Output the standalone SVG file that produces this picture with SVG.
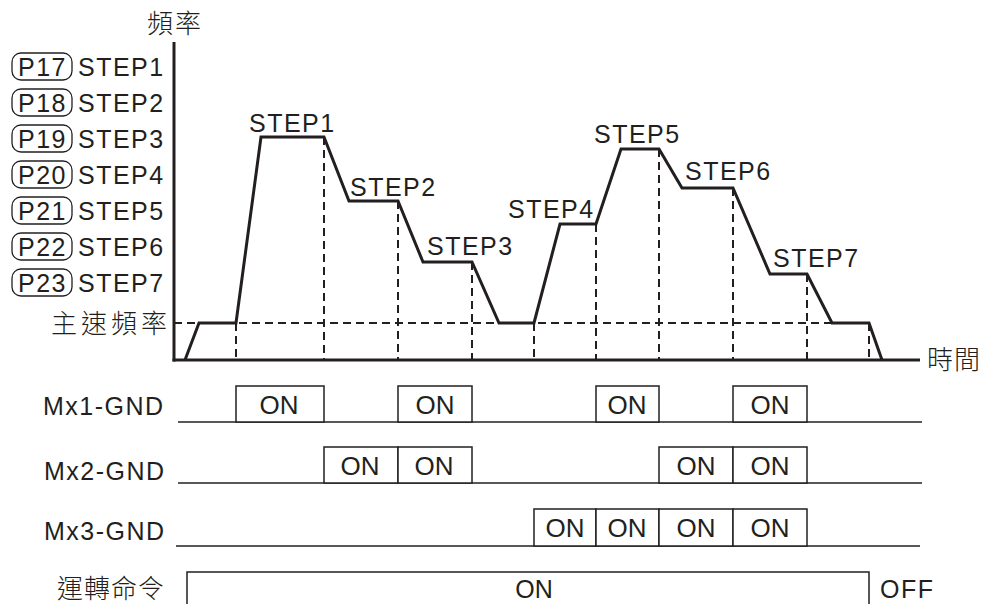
<svg xmlns="http://www.w3.org/2000/svg" width="982" height="604" viewBox="0 0 982 604">
<style>
.t{font-family:"Liberation Sans",Arial,sans-serif;font-size:25px;letter-spacing:1.5px;fill:#231f20}
.on{font-family:"Liberation Sans",Arial,sans-serif;font-size:26px;fill:#231f20;text-anchor:middle}
.cjk{font-family:"Noto Sans CJK TC","Noto Sans CJK SC",sans-serif;font-size:26px;font-weight:300;fill:#231f20}
.axis{stroke:#231f20;stroke-width:3;fill:none}
.curve{stroke:#231f20;stroke-width:3;fill:none;stroke-linejoin:miter}
.dash{stroke:#231f20;stroke-width:2;stroke-dasharray:8 5;fill:none}
.sig{stroke:#231f20;stroke-width:1.5;fill:none}
.box{stroke:#231f20;stroke-width:1.5;fill:#fff}
.pill{stroke:#231f20;stroke-width:1.3;fill:none}
</style>

<g id="legend">
  <rect class="pill" x="12" y="53" width="60" height="27" rx="9"/>
  <rect class="pill" x="12" y="89" width="60" height="27" rx="9"/>
  <rect class="pill" x="12" y="125" width="60" height="27" rx="9"/>
  <rect class="pill" x="12" y="161" width="60" height="27" rx="9"/>
  <rect class="pill" x="12" y="197" width="60" height="27" rx="9"/>
  <rect class="pill" x="12" y="233" width="60" height="27" rx="9"/>
  <rect class="pill" x="12" y="269" width="60" height="27" rx="9"/>
  <text class="t" x="18" y="76">P17</text><text class="t" x="78" y="76">STEP1</text>
  <text class="t" x="18" y="112">P18</text><text class="t" x="78" y="112">STEP2</text>
  <text class="t" x="18" y="148">P19</text><text class="t" x="78" y="148">STEP3</text>
  <text class="t" x="18" y="184">P20</text><text class="t" x="78" y="184">STEP4</text>
  <text class="t" x="18" y="220">P21</text><text class="t" x="78" y="220">STEP5</text>
  <text class="t" x="18" y="256">P22</text><text class="t" x="78" y="256">STEP6</text>
  <text class="t" x="18" y="292">P23</text><text class="t" x="78" y="292">STEP7</text>
</g>

<g id="axes">
  <line class="axis" x1="174" y1="42" x2="174" y2="361.5"/>
  <line class="axis" x1="172.5" y1="360" x2="920" y2="360"/>
  <text class="cjk" x="147" y="33" style="letter-spacing:2px">頻率</text>
  <text class="cjk" x="927" y="369" style="letter-spacing:1px">時間</text>
  <text class="cjk" x="51" y="333" style="letter-spacing:4px">主速頻率</text>
</g>

<g id="guides">
  <line class="dash" x1="174" y1="323" x2="869" y2="323"/>
  <line class="dash" x1="236" y1="323" x2="236" y2="360"/>
  <line class="dash" x1="324" y1="137" x2="324" y2="360"/>
  <line class="dash" x1="398" y1="201" x2="398" y2="360"/>
  <line class="dash" x1="472" y1="262" x2="472" y2="360"/>
  <line class="dash" x1="534" y1="323" x2="534" y2="360"/>
  <line class="dash" x1="596" y1="224" x2="596" y2="360"/>
  <line class="dash" x1="659" y1="149" x2="659" y2="360"/>
  <line class="dash" x1="733" y1="188" x2="733" y2="360"/>
  <line class="dash" x1="807" y1="274" x2="807" y2="360"/>
  <line class="dash" x1="869" y1="323" x2="869" y2="360"/>
</g>

<g id="curve">
  <polyline class="curve" points="185,360 199,323 236,323 261,137 324,137 349,201 398,201 423,262 472,262 499,323 534,323 560,224 596,224 621,149 659,149 682,188 733,188 770,274 807,274 832,323 869,323 882,360"/>
  <text class="t" x="249" y="132">STEP1</text>
  <text class="t" x="350" y="196">STEP2</text>
  <text class="t" x="427" y="255">STEP3</text>
  <text class="t" x="508" y="218">STEP4</text>
  <text class="t" x="594" y="143">STEP5</text>
  <text class="t" x="685" y="180">STEP6</text>
  <text class="t" x="773" y="267">STEP7</text>
</g>

<g id="mx1">
  <text class="t" x="43" y="415">Mx1-GND</text>
  <line class="sig" x1="178" y1="422" x2="922" y2="422"/>
  <rect class="box" x="236" y="386" width="88" height="36"/>
  <rect class="box" x="398" y="386" width="74" height="36"/>
  <rect class="box" x="596" y="386" width="63" height="36"/>
  <rect class="box" x="733" y="386" width="74" height="36"/>
  <text class="on" x="279" y="414">ON</text>
  <text class="on" x="435" y="414">ON</text>
  <text class="on" x="627" y="414">ON</text>
  <text class="on" x="770" y="414">ON</text>
</g>

<g id="mx2">
  <text class="t" x="44" y="480">Mx2-GND</text>
  <line class="sig" x1="178" y1="483" x2="922" y2="483"/>
  <rect class="box" x="324" y="447" width="74" height="36"/>
  <rect class="box" x="398" y="447" width="74" height="36"/>
  <rect class="box" x="659" y="447" width="74" height="36"/>
  <rect class="box" x="733" y="447" width="74" height="36"/>
  <text class="on" x="360" y="475">ON</text>
  <text class="on" x="434" y="475">ON</text>
  <text class="on" x="696" y="475">ON</text>
  <text class="on" x="770" y="475">ON</text>
</g>

<g id="mx3">
  <text class="t" x="44" y="540">Mx3-GND</text>
  <line class="sig" x1="176" y1="546" x2="920" y2="546"/>
  <rect class="box" x="534" y="509" width="62" height="37"/>
  <rect class="box" x="596" y="509" width="63" height="37"/>
  <rect class="box" x="659" y="509" width="74" height="37"/>
  <rect class="box" x="733" y="509" width="74" height="37"/>
  <text class="on" x="565" y="537">ON</text>
  <text class="on" x="627" y="537">ON</text>
  <text class="on" x="696" y="537">ON</text>
  <text class="on" x="770" y="537">ON</text>
</g>

<g id="run">
  <text class="cjk" x="57" y="598" style="letter-spacing:1px">運轉命令</text>
  <polyline class="sig" points="187,606 187,572 869,572 869,606"/>
  <text class="on" x="534" y="598" style="font-size:25px">ON</text>
  <text class="t" x="880" y="598">OFF</text>
</g>
</svg>
